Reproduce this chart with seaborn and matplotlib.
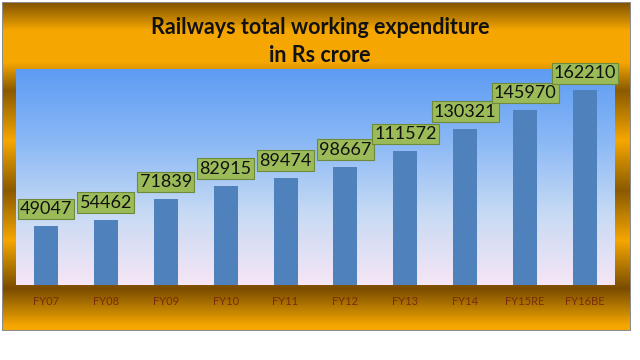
import numpy as np
import seaborn as sns
import matplotlib.pyplot as plt
from matplotlib.colors import LinearSegmentedColormap

# chart data
years = ['FY07', 'FY08', 'FY09', 'FY10', 'FY11', 'FY12', 'FY13', 'FY14', 'FY15RE', 'FY16BE']
expenditure = [49047, 54462, 71839, 82915, 89474, 98667, 111572, 130321, 145970, 162210]

sns.set_theme(style='white')
plt.rcParams['font.family'] = ['Lato', 'DejaVu Sans']

W, H = 640, 360
fig = plt.figure(figsize=(6.4, 3.6), dpi=100)

# gold frame background (mirrored gradient like the Excel fill)
gold = LinearSegmentedColormap.from_list('gold', ['#7a4c00', '#b57a00', '#f6a600'])
ys = np.arange(H)
stops_y = [0, 30, 62, 90, 140, 190, 240, 288, 325, 360]
stops_v = [0.0, 1.0, 1.0, 0.15, 1.0, 0.15, 1.0, 0.0, 1.0, 1.0]
level = np.interp(ys, stops_y, stops_v)
img = np.ones((H, W, 4))
band = gold(level)
box_l, box_r, box_t, box_b = 2, 631, 2, 331
img[box_t:box_b, box_l:box_r] = band[box_t:box_b, None, :]
grey = np.array([0.55, 0.55, 0.55, 1])
img[box_t, box_l:box_r] = grey
img[box_b - 1, box_l:box_r] = grey
img[box_t:box_b, box_l] = grey
img[box_t:box_b, box_r - 1] = grey
bg = fig.add_axes([0, 0, 1, 1], zorder=-1)
bg.imshow(img, aspect='auto', extent=[0, W, H, 0])
bg.axis('off')

# plot area
ax = fig.add_axes([16 / W, 1 - 285 / H, (615 - 16) / W, (285 - 69) / H])
sky = LinearSegmentedColormap.from_list('sky', ['#f6e6f6', '#c6daf4', '#8ab8f6', '#5d9cf3'])
ax.imshow(np.linspace(0, 1, 256)[::-1].reshape(-1, 1), cmap=sky, aspect='auto',
          extent=[0, 1, 0, 1], transform=ax.transAxes, zorder=0)

sns.barplot(x=years, y=expenditure, color='#4f81bd', saturation=1, width=0.4,
            linewidth=0, edgecolor='none', ax=ax, zorder=2)
ax.set_xlim(-0.5, len(years) - 0.5)
ax.set_ylim(0, 180000)
ax.set_yticks([])
ax.set_xlabel('')
ax.set_ylabel('')
for s in ax.spines.values():
    s.set_visible(False)
ax.tick_params(axis='x', length=0, pad=8, labelsize=8, labelcolor='#7a2a08')

for i, v in enumerate(expenditure):
    ax.annotate(f'{v}', (i, v), xytext=(0, 9), textcoords='offset pixels',
                ha='center', va='bottom', fontsize=13, color='#111111',
                annotation_clip=False, zorder=5,
                bbox=dict(boxstyle='square,pad=0.12', fc='#9bbb59', ec='#6f8a3a', lw=0.8))

fig.text(320 / W, 1 - 27 / H, 'Railways total working expenditure', ha='center', va='center',
         fontsize=15.5, fontweight='bold', color='#111111')
fig.text(320 / W, 1 - 55 / H, 'in Rs crore', ha='center', va='center',
         fontsize=15.5, fontweight='bold', color='#111111')

fig.savefig('out.png', dpi=100)
